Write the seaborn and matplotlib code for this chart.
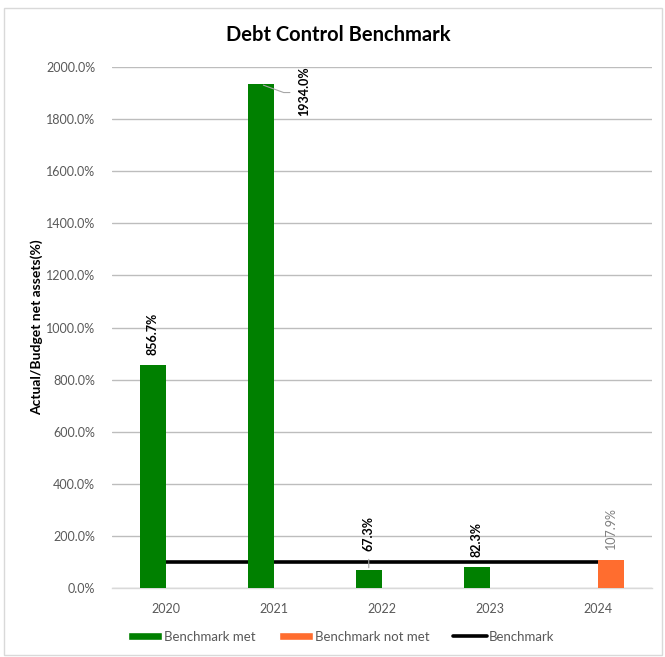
import matplotlib
matplotlib.use("Agg")
import matplotlib.pyplot as plt
import seaborn as sns
import pandas as pd
from matplotlib.lines import Line2D
from matplotlib.patches import Patch, Rectangle

years = ["2020", "2021", "2022", "2023", "2024"]
values = [856.7, 1934.0, 67.3, 82.3, 107.9]
status = ["Benchmark met", "Benchmark met", "Benchmark met", "Benchmark met", "Benchmark not met"]
benchmark = [100, 100, 100, 100, 100]
yticks = [0, 200, 400, 600, 800, 1000, 1200, 1400, 1600, 1800, 2000]

GREEN = "#008000"
ORANGE = "#FF6D2F"

sns.set_theme(style="white")
plt.rcParams["font.family"] = ["Lato", "DejaVu Sans"]

df = pd.DataFrame({"year": years, "value": values, "status": status})

fig = plt.figure(figsize=(6.65, 6.57), dpi=100)
ax = fig.add_axes([0.168, 0.105, 0.812, 0.793])

# benchmark line
ax.plot(range(len(years)), benchmark, color="black", lw=2.6, zorder=3, solid_capstyle="butt")

sns.barplot(data=df, x="year", y="value", hue="status",
            hue_order=["Benchmark met", "Benchmark not met"],
            palette={"Benchmark met": GREEN, "Benchmark not met": ORANGE},
            width=0.48, dodge=True, ax=ax, legend=False, zorder=4,
            saturation=1, edgecolor="none")

ax.set_xlim(-0.5, 4.5)
ax.set_ylim(0, 2000)
ax.set_yticks(yticks)
ax.set_yticklabels([f"{v:.1f}%" for v in yticks])
ax.yaxis.grid(True, color="#bdbdbd", lw=1)
ax.set_axisbelow(True)
for s in ["top", "right", "left"]:
    ax.spines[s].set_visible(False)
ax.spines["bottom"].set_color("#d9d9d9")
ax.spines["bottom"].set_linewidth(1)
ax.tick_params(axis="both", length=0, labelsize=9, colors="#595959")
ax.tick_params(axis="x", pad=11)
ax.tick_params(axis="y", pad=12)
ax.set_xlabel("")
ax.set_ylabel("Actual/Budget net assets(%)", fontsize=10, fontweight="bold", color="black")
ax.yaxis.set_label_coords(-0.128, 0.5)

# bar labels
off = 0.12
pos = {"Benchmark met": -off, "Benchmark not met": off}
for i, (v, st) in enumerate(zip(values, status)):
    x = i + pos[st]
    label = f"{v:.1f}%"
    if i == 0:
        ax.annotate(label, (x, v), xytext=(0, 7), textcoords="offset points",
                    rotation=90, ha="center", va="bottom", fontsize=9, fontweight="bold", color="black")
    elif i == 1:
        ax.annotate(label, (x, v), xytext=(31, 13), textcoords="offset points",
                    rotation=90, ha="center", va="top", fontsize=9, fontweight="bold", color="black",
                    zorder=6)
        ax.annotate("", (x, v), xytext=(23, -6), textcoords="offset points",
                    arrowprops=dict(arrowstyle="-", color="#a6a6a6", lw=0.8,
                                    connectionstyle="angle,angleA=0,angleB=160,rad=0"),
                    zorder=6)
    elif i == 2:
        ax.annotate(label, (x, v), xytext=(0, 14), textcoords="offset points",
                    rotation=90, ha="center", va="bottom", fontsize=9, fontweight="bold", color="black",
                    zorder=6)
        ax.annotate("", (x, v), xytext=(0, 10), textcoords="offset points",
                    arrowprops=dict(arrowstyle="-", color="#a6a6a6", lw=0.8), zorder=6)
    elif st == "Benchmark met":
        ax.annotate(label, (x, v), xytext=(0, 7), textcoords="offset points",
                    rotation=90, ha="center", va="bottom", fontsize=9, fontweight="bold", color="black",
                    zorder=6)
    else:
        ax.annotate(label, (x, v), xytext=(0, 8), textcoords="offset points",
                    rotation=90, ha="center", va="bottom", fontsize=9, color="#7f7f7f", zorder=6)

fig.text(0.509, 0.946, "Debt Control Benchmark", ha="center", va="center",
         fontsize=14.5, fontweight="bold", color="black")

handles = [Patch(facecolor=GREEN), Patch(facecolor=ORANGE),
           Line2D([0], [0], color="black", lw=2.6)]
labels = ["Benchmark met", "Benchmark not met", "Benchmark"]
leg = fig.legend(handles, labels, loc="center", bbox_to_anchor=(0.513, 0.031), ncol=3,
                 frameon=False, fontsize=9.5, handlelength=2.6, handleheight=0.6,
                 handletextpad=0.1, columnspacing=1.8)
for t in leg.get_texts():
    t.set_color("#595959")

fig.patches.append(Rectangle((0.006, 0.003), 0.99, 0.985, transform=fig.transFigure,
                             fill=False, edgecolor="#d9d9d9", lw=1))

fig.savefig("out.png", dpi=100)
